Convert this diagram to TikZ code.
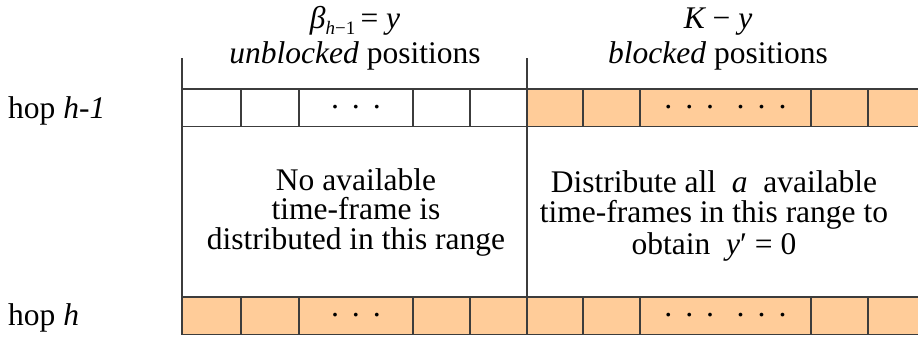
\documentclass[tikz,border=0pt]{standalone}
\usepackage{fontspec}
\setmainfont{Liberation Serif}
\definecolor{slotfill}{RGB}{255,204,153}
\definecolor{linec}{RGB}{60,60,60}
\begin{document}
\begin{tikzpicture}[x=1pt,y=-1pt,
  slot/.style={draw=linec,line width=1.3pt,inner sep=0pt,outer sep=0pt,anchor=north west,minimum height=37.5pt},
  freeslot/.style={slot,fill=white},
  busyslot/.style={slot,fill=slotfill},
  txt/.style={inner sep=0pt,font=\fontsize{31.5}{29.5}\selectfont},
  block/.style={txt,align=center},
  divider/.style={draw=linec,line width=1.3pt}
]
\useasboundingbox (0,0) rectangle (918,338);
\clip (0,0) rectangle (918,338);
\newcommand{\dotsA}{\raisebox{-10pt}[0pt][0pt]{·\,\,·\,\,·}}
\newcommand{\dotsB}{\raisebox{-10pt}[0pt][0pt]{·\,\,·\,\,·\hspace{20pt}·\,\,·\,\,·}}
% top row (hop h-1)
\foreach \x/\w/\n/\s/\t in {182/59/t1/freeslot/{},241/58/t2/freeslot/{},299/114/t3/freeslot/{\dotsA},413/57/t4/freeslot/{},470/57/t5/freeslot/{},
  527/56/t6/busyslot/{},583/57/t7/busyslot/{},640/171/t8/busyslot/{\dotsB},811/57/t9/busyslot/{},868/60/t10/busyslot/{}}
  \node[\s,minimum width=\w pt,font=\fontsize{31.5}{32}\selectfont] (\n) at (\x,89) {\t};
% bottom row (hop h)
\foreach \x/\w/\n/\t in {182/59/b1/{},241/58/b2/{},299/114/b3/{\dotsA},413/57/b4/{},470/57/b5/{},
  527/56/b6/{},583/57/b7/{},640/171/b8/{\dotsB},811/57/b9/{},868/60/b10/{}}
  \node[busyslot,minimum width=\w pt,font=\fontsize{31.5}{32}\selectfont] (\n) at (\x,297) {\t};
% dividers
\coordinate (ltop) at (182,58);
\coordinate (rtop) at (527,58);
\draw[divider] (ltop) -- (t1.north west);
\draw[divider] (t1.south west) -- (b1.north west);
\draw[divider] (rtop) -- (t6.north west);
\draw[divider] (t6.south west) -- (b6.north west);
% headings
\node[txt,anchor=base] (beta) at (355,28) {{\itshape β}\raisebox{-6pt}{\fontsize{19}{19}\selectfont{\itshape h}−1}\,= {\itshape y}};
\node[txt,anchor=base] (unbl) at (355,63) {{\itshape unblocked} positions};
\node[txt,anchor=base] (kmy) at (718,28) {{\itshape K} − {\itshape y}};
\node[txt,anchor=base] (bl) at (718,63) {{\itshape blocked} positions};
% row labels
\node[txt,anchor=base west] (hop1) at (8,118) {hop {\itshape h-1}};
\node[txt,anchor=base west] (hop2) at (8,325) {hop {\itshape h}};
% middle blocks
\node[block] (leftblk) at (356,212) {No available\\time-frame is\\distributed in this range};
\node[block] (rightblk) at (714,216) {Distribute all~ {\itshape a} ~available\\time-frames in this range to\\[3pt]obtain~ {\itshape y}′ = 0};
\end{tikzpicture}
\end{document}
